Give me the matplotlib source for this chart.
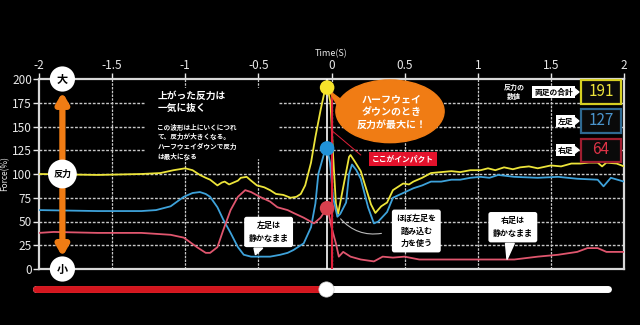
import matplotlib.pyplot as plt
from matplotlib.patches import Ellipse, Polygon, Rectangle
from matplotlib.lines import Line2D

plt.rcParams['font.family'] = ['Noto Sans CJK JP', 'DejaVu Sans']

# force curves (% of body weight)
t_total = [-2.0, -1.6, -1.3, -1.17, -1.08, -1.0, -0.95, -0.9, -0.86, -0.83, -0.78, -0.75,
           -0.73, -0.7, -0.67, -0.64, -0.62, -0.58, -0.55, -0.51, -0.46, -0.42, -0.38, -0.33,
           -0.28, -0.24, -0.21, -0.18, -0.14, -0.11, -0.075, -0.05, -0.03, -0.007, 0.01, 0.03,
           0.045, 0.08, 0.12, 0.13, 0.16, 0.2, 0.23, 0.27, 0.3, 0.34, 0.38, 0.42, 0.46, 0.49,
           0.53, 0.56, 0.62, 0.68, 0.75, 0.82, 0.88, 0.95, 1.02, 1.07, 1.12, 1.18, 1.24, 1.29,
           1.35, 1.41, 1.5, 1.57, 1.64, 1.7, 1.76, 1.82, 1.85, 1.88, 1.95, 2.0]
total = [100, 99, 100, 101, 104, 106, 104, 99, 96, 94, 88, 91,
         92, 89, 91, 93, 96, 97, 93, 88, 86, 83, 79, 78,
         75, 76, 79, 88, 112, 139, 167, 185, 193, 175, 122, 69,
         58, 86, 118, 120, 113, 103, 88, 68, 59, 66, 70, 83, 87, 90,
         89, 92, 96, 101, 102, 103, 102, 104, 104, 106, 104, 107, 105, 107,
         108, 106, 109, 108, 111, 111, 112, 112, 108, 112, 111, 108]

t_left = [-2.0, -1.6, -1.3, -1.2, -1.1, -1.01, -0.95, -0.9, -0.86, -0.83, -0.78, -0.74,
          -0.69, -0.64, -0.6, -0.55, -0.5, -0.42, -0.35, -0.3, -0.26, -0.19, -0.14, -0.11,
          -0.09, -0.05, -0.03, -0.01, 0.01, 0.04, 0.06, 0.1, 0.12, 0.14, 0.17, 0.2, 0.25,
          0.29, 0.32, 0.38, 0.42, 0.49, 0.56, 0.62, 0.68, 0.75, 0.82, 0.88, 0.95, 1.02,
          1.08, 1.14, 1.25, 1.41, 1.55, 1.68, 1.82, 1.86, 1.91, 2.0]
left = [62, 61, 61, 62, 66, 76, 80, 81, 79, 76, 65, 52,
        38, 23, 15, 13, 13, 13, 15, 17, 20, 27, 44, 69,
        100, 122, 127, 112, 76, 55, 58, 70, 100, 110, 104, 95, 65,
        48, 50, 60, 75, 80, 85, 88, 92, 92, 94, 94, 96, 97,
        96, 99, 97, 96, 97, 95, 94, 87, 96, 92]

t_right = [-2.0, -1.9, -1.6, -1.3, -1.1, -1.01, -0.92, -0.86, -0.83, -0.78, -0.74, -0.69,
           -0.64, -0.59, -0.55, -0.49, -0.42, -0.37, -0.3, -0.26, -0.19, -0.12, -0.075, -0.04,
           -0.02, 0.0, 0.03, 0.05, 0.08, 0.13, 0.2, 0.29, 0.35, 0.42, 0.5, 0.6, 0.8, 1.0,
           1.25, 1.41, 1.55, 1.68, 1.75, 1.82, 1.88, 2.0]
right = [38, 39, 38, 38, 36, 33, 23, 17, 17, 23, 41, 62,
         76, 83, 81, 76, 71, 65, 62, 59, 54, 48, 54, 62,
         59, 44, 27, 13, 18, 13, 10, 8, 13, 12, 13, 10, 10, 10,
         10, 13, 15, 18, 22, 22, 18, 18]

x_ticks = [-2, -1.5, -1, -0.5, 0, 0.5, 1, 1.5, 2]
x_labels = ['-2', '-1.5', '-1', '-0.5', '0', '0.5', '1', '1.5', '2']
y_ticks = [0, 25, 50, 75, 100, 125, 150, 175, 200]

t_now = -0.03
now_vals = [191, 127, 64]  # total, left, right
value_labels = ['191', '127', '64']

YEL = '#ece43a'
BLU = '#3ea2da'
PNK = '#e0566e'
ORG = '#f07c14'

W, H = 640, 325


def fx(p):
    return p / W


def fy(p):
    return 1 - p / H


fig = plt.figure(figsize=(6.4, 3.25), dpi=100, facecolor='black')
ax = fig.add_axes([fx(39), fy(269), 585 / W, 190 / H])
ax.set_facecolor('black')
ax.set_xlim(-2, 2)
ax.set_ylim(0, 200)

for y in y_ticks[1:-1]:
    ax.axhline(y, color='#c8c8c8', lw=1, ls=(0, (2, 1.2)), zorder=1)
for x in x_ticks[1:-1]:
    ax.axvline(x, color='#c8c8c8', lw=0.9, ls=(0, (2, 1)), zorder=1)

for s in ax.spines.values():
    s.set_color('#d8d8d8')
    s.set_linewidth(1.6)

ax.xaxis.tick_top()
ax.set_xticks(x_ticks)
ax.set_xticklabels(x_labels)
ax.set_yticks(y_ticks)
ax.tick_params(colors='#e8e8e8', labelsize=8.5, length=4, width=1, pad=1)
ax.xaxis.set_label_position('top')
ax.set_xlabel('Time(S)', color='#e8e8e8', fontsize=6.5, labelpad=2)
ax.set_ylabel('Force(%)', color='#e8e8e8', fontsize=6, labelpad=2)

ax.plot(t_total, total, color=YEL, lw=1.3, zorder=4)
ax.plot(t_left, left, color=BLU, lw=1.3, zorder=4)
ax.plot(t_right, right, color=PNK, lw=1.3, zorder=4)

# current-time marker and impact line
ax.axvline(t_now, color='white', lw=1.2, zorder=3)
ax.plot([0.005, 0.005], [now_vals[0], 0], color='#e0203a', lw=1.5, zorder=5)
ax.scatter([t_now] * 3, now_vals, s=110, color=['#f6e32a', '#2192d8', '#d8404e'],
           zorder=7, edgecolors='none')

# leader curve to the middle bubble
ax.annotate('', xy=(0.05, 55), xytext=(0.36, 38),
            arrowprops=dict(arrowstyle='-', color='#bbbbbb', lw=0.8,
                            connectionstyle='arc3,rad=-0.3'), zorder=3)

# text box top left
ax.add_patch(Rectangle((-1.27, 117), 0.9, 74, color='black', zorder=6))
ax.text(-1.19, 187, '上がった反力は\n一気に抜く', color='white', fontsize=7,
        fontweight='bold', va='top', ha='left', linespacing=1.25, zorder=7)
ax.text(-1.19, 153, 'この波形は上にいくにつれ\nて、反力が大きくなる。\nハーフウェイダウンで反力\nは最大になる',
        color='white', fontsize=4.8, fontweight='bold', va='top', ha='left',
        linespacing=1.45, zorder=7)

# orange callout
ax.add_patch(Polygon([(t_now + 0.01, 188), (0.12, 172), (0.12, 152)],
                     closed=True, color=ORG, zorder=6))
ax.add_patch(Ellipse((0.4, 166), 0.74, 66, color=ORG, zorder=6))
ax.text(0.41, 165, 'ハーフウェイ\nダウンのとき\n反力が最大に！', color='white', fontsize=7.2,
        fontweight='bold', ha='center', va='center', linespacing=1.35, zorder=7)

# impact label
ax.plot([0.0, 0.2], [146, 120], color='#e0203a', lw=0.7, zorder=5)
ax.text(0.49, 116, 'ここがインパクト', color='white', fontsize=5.6, fontweight='bold',
        ha='center', va='center', zorder=7,
        bbox=dict(boxstyle='square,pad=0.35', fc='#e4122c', ec='none'))


def bubble(cx, cy, txt, tail=None):
    ax.text(cx, cy, txt, color='black', fontsize=5.8, fontweight='bold', ha='center',
            va='center', linespacing=1.5, zorder=8,
            bbox=dict(boxstyle='round,pad=0.55,rounding_size=0.3', fc='white', ec='none'))
    if tail:
        ax.add_patch(Polygon(tail, closed=True, color='white', zorder=8))


bubble(-0.43, 39, '左足は\n静かなまま',
       [(-0.53, 22), (-0.47, 22), (-0.52, 15)])
bubble(0.58, 40, 'ほぼ左足を\n踏み込む\n力を使う')
bubble(1.24, 44, '右足は\n静かなまま',
       [(1.19, 27), (1.25, 27), (1.2, 10)])

# left scale markers
ax.annotate('', xy=(-1.84, 186), xytext=(-1.84, 13),
            arrowprops=dict(arrowstyle='<|-|>,head_width=0.35,head_length=0.6',
                            color=ORG, lw=4.5, shrinkA=0, shrinkB=0), zorder=6)
for yv, lab, sz in [(200, '大', 330), (100, '反力', 430), (0, '小', 330)]:
    ax.scatter([-1.84], [yv], s=sz, color='white', zorder=8, clip_on=False,
               edgecolors='none')
    ax.text(-1.84, yv, lab, color='black', fontsize=8 if len(lab) == 1 else 6.5,
            fontweight='bold', ha='center', va='center', zorder=9, clip_on=False)

# value readout panel (figure pixels)
fig.text(fx(514), fy(92), '反力の\n数値', color='white', fontsize=5, fontweight='bold',
         ha='center', va='center', linespacing=1.2)
panel = [('両足の合計', 92, '#d6cf22', '#ece43a'),
         ('左足', 121, '#2f6a92', '#4a94cc'),
         ('右足', 150, '#a01e30', '#dd3346')]
for (lab, cy, ec, tc), val in zip(panel, value_labels):
    fig.text(fx(573), fy(cy), lab, color='black', fontsize=5.6, fontweight='bold',
             ha='right', va='center',
             bbox=dict(boxstyle='square,pad=0.25', fc='white', ec='none'))
    fig.add_artist(Polygon([(fx(574), fy(cy - 4)), (fx(574), fy(cy + 4)), (fx(579), fy(cy))],
                           closed=True, color='white', transform=fig.transFigure))
    fig.add_artist(Rectangle((fx(581), fy(cy + 11.5)), 40 / W, 23 / H, fc='#0a0a0a', ec=ec,
                             lw=1.6, transform=fig.transFigure, zorder=5))
    fig.text(fx(601), fy(cy), val, color=tc, fontsize=11, ha='center', va='center',
             zorder=6)

# slider
fig.add_artist(Line2D([fx(36), fx(608)], [fy(289), fy(289)], color='white', lw=5,
                      solid_capstyle='round'))
fig.add_artist(Line2D([fx(36), fx(324)], [fy(289), fy(289)], color='#d4161e', lw=5,
                      solid_capstyle='round'))
fig.add_artist(Line2D([fx(326)], [fy(289)], marker='o', markersize=11, color='white',
                      markeredgecolor='#cccccc', markeredgewidth=0.5))

fig.savefig('out.png', dpi=100, facecolor='black')
